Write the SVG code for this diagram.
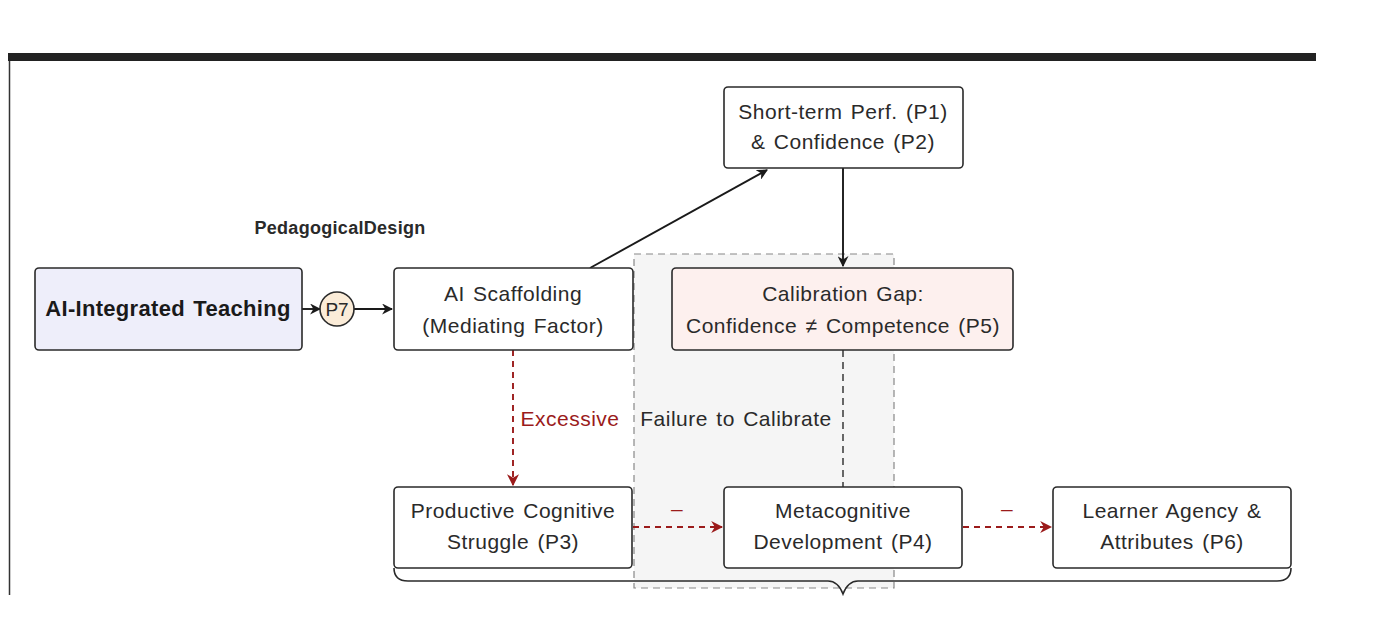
<svg xmlns="http://www.w3.org/2000/svg" width="1394" height="643" viewBox="0 0 1394 643">
<defs>
<style>
.node{stroke:#2a2a2a;stroke-width:1.6;}
.t{font-family:"Liberation Sans",Arial,sans-serif;font-size:21px;letter-spacing:0.5px;word-spacing:2px;fill:#2a2a2a;text-anchor:middle;}
.b{font-weight:bold;}
.red{fill:#9b1b1b;}
.conn{fill:none;stroke:#1a1a1a;stroke-width:1.9;}
.rconn{fill:none;stroke:#9b1b1b;stroke-width:1.9;stroke-dasharray:6 5;}
</style>
<marker id="ah" viewBox="0 0 10 10" refX="9" refY="5" markerWidth="11" markerHeight="11" markerUnits="userSpaceOnUse" orient="auto">
<path d="M0,0 L10,5 L0,10 L3,5 Z" fill="#1a1a1a"/>
</marker>
<marker id="ahr" viewBox="0 0 10 10" refX="9" refY="5" markerWidth="12" markerHeight="12" markerUnits="userSpaceOnUse" orient="auto">
<path d="M0,0 L10,5 L0,10 L3,5 Z" fill="#9b1b1b"/>
</marker>
</defs>
<rect width="1394" height="643" fill="#ffffff"/>
<g id="frame">
<rect x="8" y="53" width="1308" height="8" fill="#222"/>
<line x1="9.5" y1="61" x2="9.5" y2="595" stroke="#333" stroke-width="1.5"/>
</g>
<g id="calibration-zone">
<rect x="634" y="254" width="260" height="334" fill="#f5f5f5" stroke="#888" stroke-width="1.2" stroke-dasharray="7 5"/>
<text class="t" x="736" y="426">Failure to Calibrate</text>
</g>
<g id="connectors">
<line class="conn" x1="302" y1="309" x2="320" y2="309" marker-end="url(#ah)"/>
<line class="conn" x1="354" y1="309" x2="392" y2="309" marker-end="url(#ah)"/>
<line class="conn" x1="590" y1="268" x2="767" y2="170" marker-end="url(#ah)"/>
<line class="conn" x1="843" y1="168" x2="843" y2="266" marker-end="url(#ah)"/>
<line x1="843" y1="350" x2="843" y2="487" stroke="#444" stroke-width="1.6" stroke-dasharray="7 5"/>
<line class="rconn" x1="513" y1="350" x2="513" y2="485" marker-end="url(#ahr)"/>
<text class="t red" x="570" y="426">Excessive</text>
<line class="rconn" x1="633" y1="527" x2="722" y2="527" marker-end="url(#ahr)"/>
<text class="t red" x="677" y="516">–</text>
<line class="rconn" x1="963" y1="527" x2="1051" y2="527" marker-end="url(#ahr)"/>
<text class="t red" x="1007" y="516">–</text>
<path d="M394,568 Q394,581 408,581 L828,581 Q838,581 843,594 Q848,581 858,581 L1277,581 Q1291,581 1291,568" fill="none" stroke="#2a2a2a" stroke-width="1.6"/>
</g>
<text class="t b" x="340" y="234" style="font-size:18px;letter-spacing:0.3px">PedagogicalDesign</text>
<g id="ai-teaching">
<rect class="node" x="35" y="268" width="267" height="82" rx="4" fill="#eeeefa"/>
<text class="t b" x="168" y="316" style="font-size:22px;letter-spacing:0.3px;fill:#1a1a1a">AI-Integrated Teaching</text>
</g>
<g id="p7">
<circle class="node" cx="337" cy="309" r="17" fill="#fbecd8"/>
<text class="t" x="337" y="316" style="font-size:19px;letter-spacing:0">P7</text>
</g>
<g id="ai-scaffolding">
<rect class="node" x="394" y="268" width="239" height="82" rx="4" fill="#ffffff"/>
<text class="t" x="513" y="301">AI Scaffolding</text>
<text class="t" x="513" y="333">(Mediating Factor)</text>
</g>
<g id="short-term">
<rect class="node" x="724" y="87" width="239" height="81" rx="4" fill="#ffffff"/>
<text class="t" x="843" y="119">Short-term Perf. (P1)</text>
<text class="t" x="843" y="149">&amp; Confidence (P2)</text>
</g>
<g id="calibration-gap">
<rect class="node" x="672" y="268" width="341" height="82" rx="4" fill="#fdf0ee"/>
<text class="t" x="843" y="301">Calibration Gap:</text>
<text class="t" x="843" y="333">Confidence ≠ Competence (P5)</text>
</g>
<g id="productive-struggle">
<rect class="node" x="394" y="487" width="238" height="81" rx="4" fill="#ffffff"/>
<text class="t" x="513" y="518">Productive Cognitive</text>
<text class="t" x="513" y="549">Struggle (P3)</text>
</g>
<g id="metacognitive">
<rect class="node" x="724" y="487" width="238" height="81" rx="4" fill="#ffffff"/>
<text class="t" x="843" y="518">Metacognitive</text>
<text class="t" x="843" y="549">Development (P4)</text>
</g>
<g id="learner-agency">
<rect class="node" x="1053" y="487" width="238" height="81" rx="4" fill="#ffffff"/>
<text class="t" x="1172" y="518">Learner Agency &amp;</text>
<text class="t" x="1172" y="549">Attributes (P6)</text>
</g>
</svg>
